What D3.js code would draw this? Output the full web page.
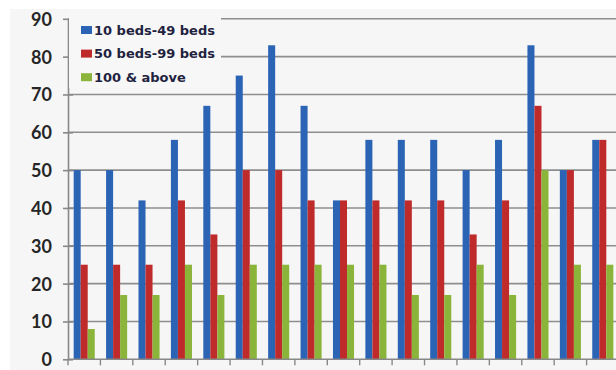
<!DOCTYPE html>
<html>
<head>
<meta charset="utf-8">
<script src="https://cdn.jsdelivr.net/npm/d3@7"></script>
<style>
  html, body { margin: 0; padding: 0; background: #ffffff; }
  svg { display: block; }
</style>
</head>
<body>
<svg id="chart" width="616" height="370"></svg>
<script>
// Groups along the x axis (unlabelled in the chart)
const groups = d3.range(1, 18).map(String);
const seriesNames = ["10 beds-49 beds", "50 beds-99 beds", "100 & above"];
const small = [50, 50, 42, 58, 67, 75, 83, 67, 42, 58, 58, 58, 50, 58, 83, 50, 58];
const medium = [25, 25, 25, 42, 33, 50, 50, 42, 42, 42, 42, 42, 33, 42, 67, 50, 58];
const large = [8, 17, 17, 25, 17, 25, 25, 25, 25, 25, 17, 17, 25, 17, 50, 25, 25];
const yTicks = [0, 10, 20, 30, 40, 50, 60, 70, 80, 90];
const colors = ["#2b63b5", "#bf2b2b", "#8ab43a"];

const seriesValues = [small, medium, large];
const svg = d3.select("#chart");
const W = 616, H = 370;

const plotLeft = 68, plotRight = 619, plotTop = 18.8, plotBottom = 359.3;

// panel background
svg.append("rect").attr("x", 0).attr("y", 0).attr("width", W).attr("height", H).attr("fill", "#ffffff");
svg.append("rect").attr("x", 10).attr("y", 9).attr("width", W - 10).attr("height", H - 9).attr("fill", "#f6f6f6");

const y = d3.scaleLinear().domain([0, 90]).range([plotBottom, plotTop]);
const x0 = d3.scaleBand().domain(groups).range([plotLeft, plotRight]).paddingInner(0.35).paddingOuter(0.175);
const x1 = d3.scaleBand().domain(seriesNames).range([0, x0.bandwidth()]);

// horizontal gridlines
svg.append("g").selectAll("line").data(yTicks.filter(d => d > 0)).join("line")
  .attr("x1", plotLeft).attr("x2", W)
  .attr("y1", d => y(d)).attr("y2", d => y(d))
  .attr("stroke", "#8e8e8e").attr("stroke-width", 1.6);

// bars
const gGroups = svg.append("g").selectAll("g").data(groups).join("g")
  .attr("transform", d => `translate(${x0(d)},0)`);
gGroups.selectAll("rect")
  .data((g, i) => seriesNames.map((s, k) => ({ s, k, v: seriesValues[k][i] })))
  .join("rect")
  .attr("x", d => x1(d.s))
  .attr("width", x1.bandwidth())
  .attr("y", d => y(d.v))
  .attr("height", d => y(0) - y(d.v))
  .attr("fill", d => colors[d.k]);

// y axis
const yAxis = d3.axisLeft(y).tickValues(yTicks).tickSize(0).tickPadding(16);
const yg = svg.append("g").attr("transform", `translate(${plotLeft},0)`).call(yAxis);
yg.select(".domain").attr("stroke", "#888").attr("stroke-width", 1.6);
yg.selectAll(".tick").append("line").attr("x1", -5).attr("x2", 5).attr("stroke", "#888").attr("stroke-width", 1.6);
yg.selectAll("text")
  .attr("font-family", "Lato, 'Open Sans', sans-serif")
  .attr("font-weight", "bold")
  .attr("font-size", 18)
  .attr("fill", "#262626")
  .attr("dy", "0.36em");

// x axis with ticks at group boundaries
const xg = svg.append("g");
xg.append("line").attr("x1", plotLeft).attr("x2", W).attr("y1", plotBottom).attr("y2", plotBottom)
  .attr("stroke", "#888").attr("stroke-width", 1.6);
const step = x0.step();
xg.selectAll("line.tk").data(d3.range(groups.length + 1)).join("line").attr("class", "tk")
  .attr("x1", i => plotLeft + i * step).attr("x2", i => plotLeft + i * step)
  .attr("y1", plotBottom).attr("y2", plotBottom + 6)
  .attr("stroke", "#888").attr("stroke-width", 1.4);

// legend
const lg = svg.append("g");
lg.append("rect").attr("x", plotLeft + 1).attr("y", 10).attr("width", 152).attr("height", 78).attr("fill", "#f7f7f7");
const items = lg.selectAll("g.item").data(seriesNames).join("g").attr("class", "item")
  .attr("transform", (d, i) => `translate(81,${30 + i * 23.6})`);
items.append("rect").attr("x", 0).attr("y", -4).attr("width", 11).attr("height", 8)
  .attr("fill", (d, i) => colors[i]);
items.append("text").attr("x", 13).attr("dy", "0.36em")
  .attr("font-family", "'DejaVu Sans', Verdana, sans-serif")
  .attr("font-weight", "bold").attr("font-size", 13)
  .attr("fill", "#1f2340")
  .text(d => d);
</script>
</body>
</html>
